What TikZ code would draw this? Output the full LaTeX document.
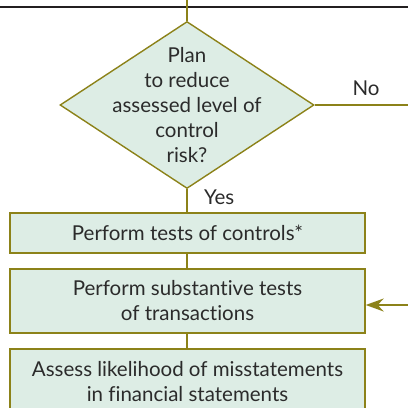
\documentclass[tikz,border=0pt]{standalone}
\usepackage{fontspec}
\setmainfont{Lato}[Ligatures=NoCommon]
\usetikzlibrary{shapes.geometric,arrows.meta,positioning}
\definecolor{boxfill}{HTML}{DDEDE5}
\definecolor{olive}{HTML}{8C8219}
\definecolor{ink}{HTML}{2B2B2B}
\definecolor{rule}{HTML}{231F20}

\begin{document}
\begin{tikzpicture}[x=1pt,y=1pt,
  every node/.style={text=ink,font=\fontsize{20.5}{25}\selectfont},
  flow/.style={draw=olive,line width=1.4pt},
  decision/.style={diamond,draw=olive,fill=boxfill,line width=1.4pt,
    minimum width=254pt,minimum height=167pt,inner sep=0pt},
  stepbox/.style={rectangle,draw=olive,fill=boxfill,line width=1.4pt,
    minimum width=355pt,inner sep=0pt,align=center}]
\useasboundingbox (0,0) rectangle (408,-408);

\draw[rule,line width=2pt] (0,-7) -- (408,-7);

\node[decision] (plan) at (187,-105) {};
\node[align=center] (plantext) at (plan.center)
  {Plan\\to reduce\\assessed level of\\control\\risk?};

\node[stepbox,minimum height=40pt] (tests) at (187.5,-233)
  {Perform tests of controls*};
\node[stepbox,minimum height=64pt] (subst) at (187.5,-301)
  {Perform substantive tests\\of transactions};
\node[stepbox,minimum height=66pt] (assess) at (187.5,-382)
  {Assess likelihood of misstatements\\in financial statements};

\coordinate (topin) at (187,0);
\coordinate (noend) at (408,-105);
\coordinate (loopin) at (408,-305);

\draw[flow] (topin) -- (plan.north);
\draw[flow] (plan.east) -- node[above=5pt,pos=0.55] (no) {No} (noend);
\draw[flow] (plan.south) -- node[right=13pt,pos=0.35] (yes) {Yes} (tests.north -| plan.south);
\draw[flow] (tests.south -| plan.south) -- (subst.north -| plan.south);
\draw[flow] (subst.south -| plan.south) -- (assess.north -| plan.south);
\draw[flow,-{Stealth[length=18pt,width=13pt,inset=6pt]}] (loopin) -- (loopin -| subst.east);
\end{tikzpicture}
\end{document}
